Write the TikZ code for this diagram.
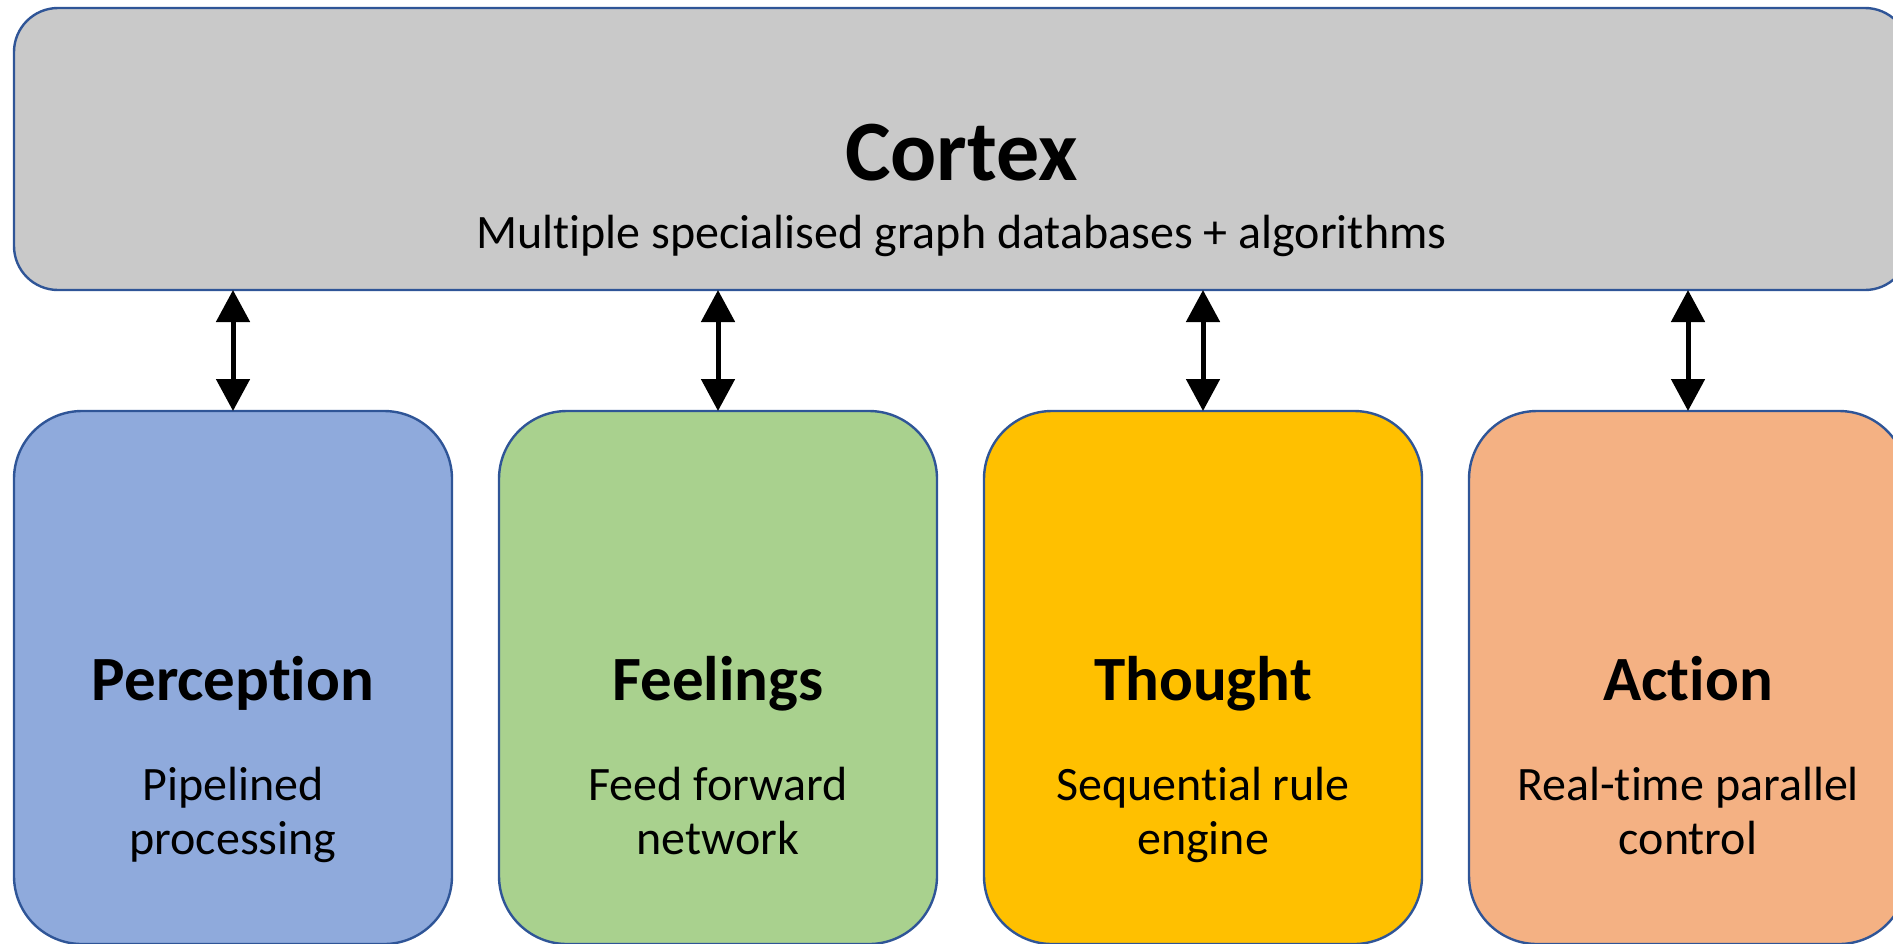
\documentclass[tikz,border=0pt]{standalone}
\usepackage{fontspec}
\setmainfont{Carlito}[RawFeature={-liga;-clig;-calt;-dlig}]
\usetikzlibrary{arrows.meta}

\definecolor{edgeblue}{HTML}{2F5597}
\definecolor{cortexgrey}{HTML}{C9C9C9}
\definecolor{percblue}{HTML}{8FAADC}
\definecolor{feelgreen}{HTML}{A9D18E}
\definecolor{thoughtgold}{HTML}{FFC000}
\definecolor{actionpeach}{HTML}{F4B183}

\tikzset{
  panel/.style={draw=edgeblue, line width=1.2pt, inner sep=0pt, outer sep=0pt,
                rectangle, rounded corners=22pt},
  topbox/.style={panel, minimum width=947.5pt, minimum height=141pt},
  modbox/.style={panel, rounded corners=34pt, minimum width=219pt, minimum height=266.5pt},
  bigtitle/.style={anchor=base, inner sep=0pt, font=\fontsize{43pt}{51pt}\selectfont\bfseries},
  modtitle/.style={anchor=base, inner sep=0pt, font=\fontsize{31.5pt}{38pt}\selectfont\bfseries},
  subline/.style={anchor=base, inner sep=0pt, font=\fontsize{24pt}{29pt}\selectfont},
  link/.style={line width=2.5pt, {Triangle[width=16.5pt,length=16pt]}-{Triangle[width=16.5pt,length=16pt]}}
}

\begin{document}
\begin{tikzpicture}[x=0.5pt, y=-0.5pt]
  \useasboundingbox (0,0) rectangle (1893,943);

  % Cortex panel across the top
  \node[topbox, fill=cortexgrey] (cortex) at (961.5,149) {};
  \node[bigtitle] (cortextitle) at (961.5,180) {Cortex};
  \node[subline] (cortexsub) at (961.5,248) {Multiple specialised graph databases + algorithms};

  % Four module panels
  \node[modbox, fill=percblue]    (perc) at (233,677.5)  {};
  \node[modbox, fill=feelgreen]   (feel) at (718,677.5)  {};
  \node[modbox, fill=thoughtgold] (thou) at (1203,677.5) {};
  \node[modbox, fill=actionpeach] (act)  at (1688,677.5) {};

  % Module titles and descriptions
  \node[modtitle] (perct) at (233,700)  {Perception};
  \node[subline]  (perca) at (233,800)  {Pipelined};
  \node[subline]  (percb) at (233,854)  {processing};

  \node[modtitle] (feelt) at (718,700)  {Feelings};
  \node[subline]  (feela) at (718,800)  {Feed forward};
  \node[subline]  (feelb) at (718,854)  {network};

  \node[modtitle] (thout) at (1203,700) {Thought};
  \node[subline]  (thoua) at (1203,800) {Sequential rule};
  \node[subline]  (thoub) at (1203,854) {engine};

  \node[modtitle] (actt)  at (1688,700) {Action};
  \node[subline]  (acta)  at (1688,800) {Real-time parallel};
  \node[subline]  (actb)  at (1688,854) {control};

  % Two-way links between the cortex and each module
  \foreach \m in {perc,feel,thou,act}
    \draw[link] (cortex.south -| \m.north) -- (\m.north);
\end{tikzpicture}
\end{document}
